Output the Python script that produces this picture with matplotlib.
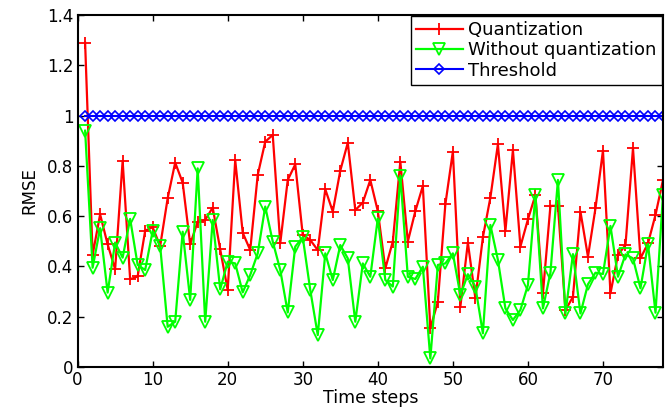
import numpy as np
import matplotlib
matplotlib.use('Agg')
import matplotlib.pyplot as plt

# time steps 1..78
time_steps = list(range(1, 79))

quantization = [
    1.29, 0.446, 0.607, 0.488, 0.389, 0.82, 0.349, 0.36, 0.542, 0.556,
    0.481, 0.671, 0.813, 0.733, 0.488, 0.578, 0.585, 0.634, 0.468, 0.306,
    0.823, 0.534, 0.465, 0.764, 0.896, 0.923, 0.492, 0.744, 0.806, 0.525,
    0.505, 0.465, 0.707, 0.618, 0.781, 0.892, 0.624, 0.654, 0.744, 0.62,
    0.392, 0.499, 0.817, 0.499, 0.62, 0.72, 0.154, 0.26, 0.647, 0.857,
    0.24, 0.495, 0.273, 0.516, 0.674, 0.886, 0.541, 0.863, 0.479, 0.587,
    0.684, 0.293, 0.641, 0.641, 0.226, 0.279, 0.618, 0.439, 0.631, 0.861,
    0.293, 0.446, 0.485, 0.87, 0.432, 0.492, 0.605, 0.744,
]

without_quant = [
    0.94, 0.395, 0.552, 0.296, 0.495, 0.435, 0.589, 0.406, 0.386, 0.541,
    0.481, 0.16, 0.18, 0.538, 0.267, 0.79, 0.18, 0.585, 0.309, 0.419,
    0.412, 0.297, 0.366, 0.452, 0.638, 0.499, 0.386, 0.217, 0.479, 0.516,
    0.306, 0.127, 0.452, 0.346, 0.485, 0.432, 0.18, 0.412, 0.359, 0.591,
    0.346, 0.32, 0.761, 0.359, 0.35, 0.399, 0.034, 0.406, 0.412, 0.452,
    0.286, 0.369, 0.32, 0.134, 0.565, 0.426, 0.233, 0.187, 0.227, 0.326,
    0.684, 0.233, 0.375, 0.744, 0.213, 0.449, 0.213, 0.329, 0.375, 0.37,
    0.561, 0.359, 0.448, 0.432, 0.313, 0.489, 0.216, 0.684,
]

threshold = [1.0] * len(time_steps)

x_ticks = [0, 10, 20, 30, 40, 50, 60, 70]
y_ticks = [0, 0.2, 0.4, 0.6, 0.8, 1.0, 1.2, 1.4]
y_tick_labels = ['0', '0.2', '0.4', '0.6', '0.8', '1', '1.2', '1.4']

# wide sans font to mimic the stretched MATLAB Helvetica
plt.rcParams['font.family'] = ['DejaVu Sans']

fig = plt.figure(figsize=(6.65, 4.12), dpi=100)
ax = fig.add_axes([0.1167, 0.1092, 0.8803, 0.8544])

ax.plot(time_steps, quantization, color='#ff0000', marker='+', markersize=9,
        markeredgewidth=1.3, linewidth=1.6, label='Quantization')
ax.plot(time_steps, without_quant, color='#00ff00', marker='v', markersize=8,
        markerfacecolor='none', markeredgewidth=1.3, linewidth=1.6,
        label='Without quantization')
ax.plot(time_steps, threshold, color='#0000ff', marker='D', markersize=5,
        markerfacecolor='none', markeredgewidth=1.2, linewidth=1.5,
        label='Threshold')

ax.set_xlim(0, 78)
ax.set_ylim(0, 1.4)
ax.set_xticks(x_ticks)
ax.set_yticks(y_ticks)
ax.set_yticklabels(y_tick_labels)
ax.tick_params(direction='in', top=True, right=True, labelsize=12, length=4,
               width=1, pad=3)
for s in ax.spines.values():
    s.set_linewidth(1.5)

ax.set_xlabel('Time steps', fontsize=12.5, labelpad=0)
ax.set_ylabel('RMSE', fontsize=12, labelpad=6)

leg = ax.legend(loc='upper right', fontsize=13, fancybox=False, framealpha=1,
                edgecolor='black', borderaxespad=0.05, handlelength=2.6,
                labelspacing=0.12, borderpad=0.3, handletextpad=0.3)
leg.get_frame().set_linewidth(1.0)
# stretch the frame a bit to the left like the reference legend
leg._legend_box.align = 'left'
for t in leg.get_texts():
    t.set_x(0)

fig.savefig('out.png', dpi=100)
